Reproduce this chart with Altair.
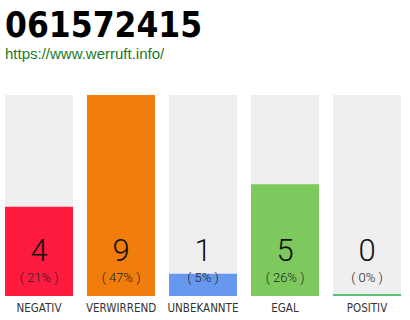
import altair as alt
import pandas as pd

# Poll results for the number
categories = ["NEGATIV", "VERWIRREND", "UNBEKANNTE", "EGAL", "POSITIV"]
votes = [4, 9, 1, 5, 0]
percents = [21, 47, 5, 26, 0]
colors = ["#ff1a40", "#f07d0c", "#6699ee", "#7dc95e", "#22aa44"]

max_votes = max(votes)

df = pd.DataFrame({
    "cat": categories,
    "votes": votes,
    "pct": [f"( {p}% )" for p in percents],
    "top": [max_votes] * len(categories),
})

FONT = "'DejaVu Sans Condensed', 'Roboto Condensed', 'Liberation Sans Narrow', Roboto, sans-serif"
LIGHT = "Roboto, 'DejaVu Sans Condensed', sans-serif"

x = alt.X("cat:N", sort=categories,
          scale=alt.Scale(paddingInner=14 / 82, paddingOuter=0),
          axis=alt.Axis(title=None, domain=False, ticks=False, labelAngle=0,
                        labelFont=FONT, labelFontSize=11.5, labelColor="#333333",
                        labelPadding=6))
yscale = alt.Scale(domain=[0, max_votes], nice=False)
color = alt.Color("cat:N", sort=categories,
                  scale=alt.Scale(domain=categories, range=colors), legend=None)

base = alt.Chart(df)

background = base.mark_bar(color="#efefef").encode(
    x=x, y=alt.Y("top:Q", scale=yscale, axis=None))

bars = base.mark_bar().encode(
    x=x, y=alt.Y("votes:Q", scale=yscale, axis=None), color=color)

zero_line = base.transform_filter("datum.votes == 0").mark_tick(
    thickness=2, size=68, yOffset=-1).encode(
    x=x, y=alt.Y("votes:Q", scale=yscale, axis=None), color=color)

numbers = base.mark_text(font=LIGHT, fontSize=31, fontWeight=300,
                         color="#111111", baseline="middle").encode(
    x=x, y=alt.value(157), text="votes:Q")

pcts = base.mark_text(font=LIGHT, fontSize=13, fontWeight=300,
                      color="#222222", baseline="middle").encode(
    x=x, y=alt.value(183), text="pct:N")

chart = alt.layer(background, bars, zero_line, numbers, pcts).properties(
    width=396, height=201,
    autosize=alt.AutoSizeParams(type="none"),
    padding={"left": 5, "top": 95, "right": 9, "bottom": 24},
    title=alt.TitleParams(
        text="061572415",
        subtitle="https://www.werruft.info/",
        anchor="start", frame="group", orient="top",
        font=FONT, fontSize=35, fontWeight="bold", color="#000000",
        subtitleFont="'Liberation Sans', Arial, sans-serif", subtitleFontSize=15,
        subtitleColor="#1a7a2a", subtitlePadding=3, offset=33,
    ),
).configure_view(stroke=None)

chart.save("out.html", embed_options={"renderer": "svg", "actions": False})
